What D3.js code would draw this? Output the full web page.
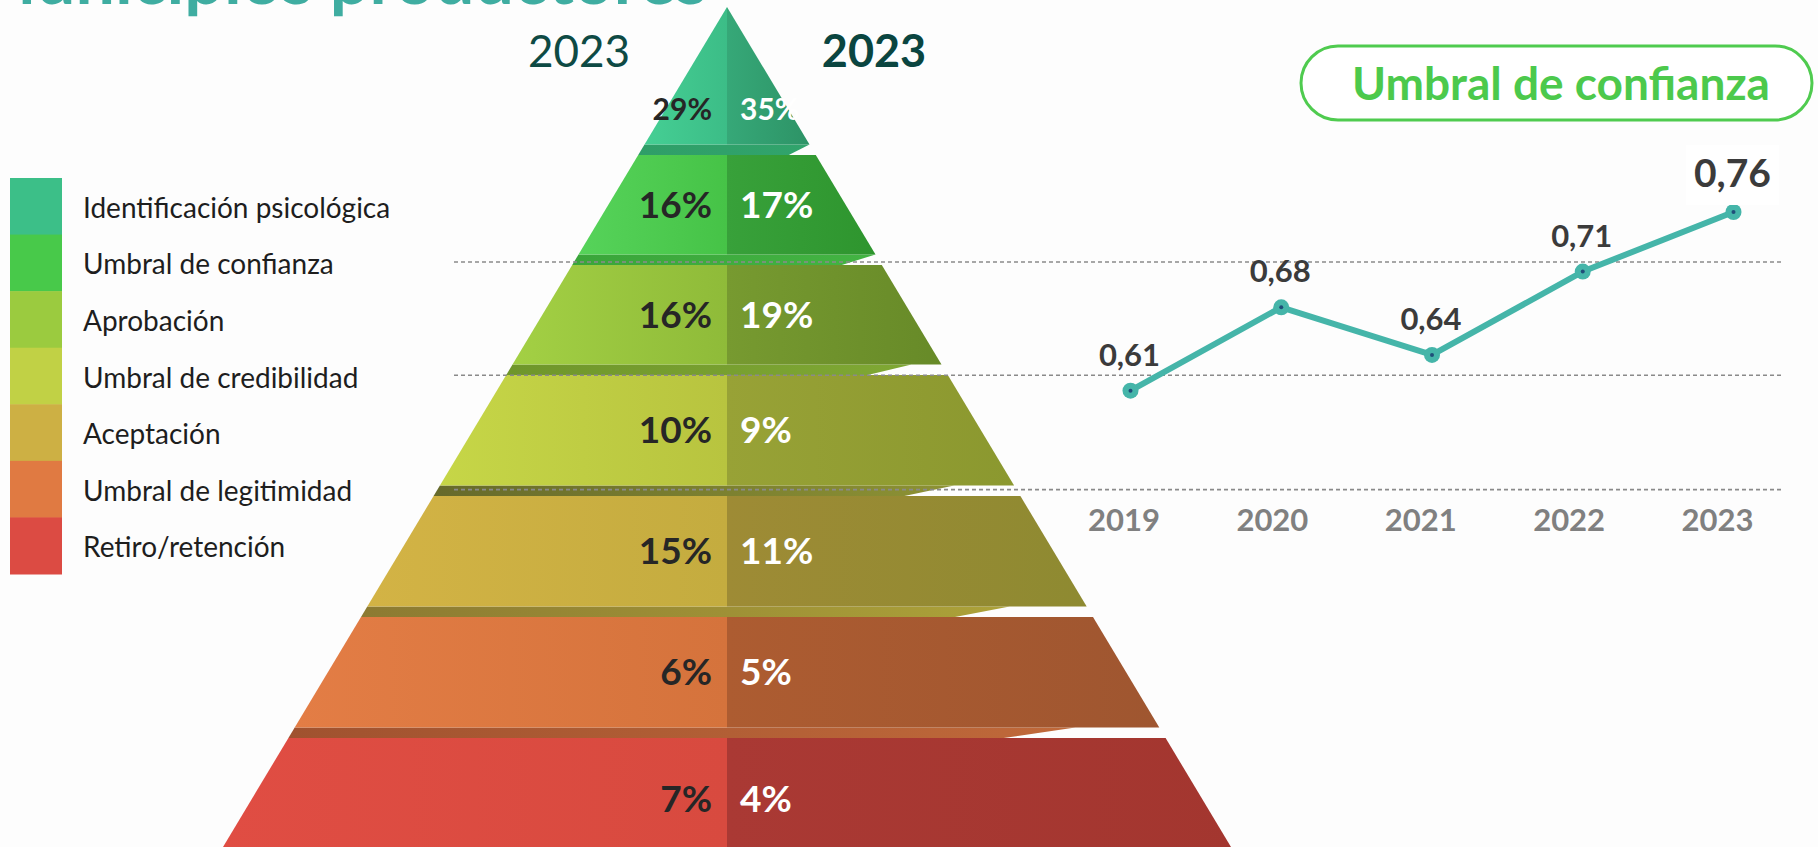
<!DOCTYPE html>
<html><head><meta charset="utf-8">
<script src="https://cdn.jsdelivr.net/npm/d3@7"></script>
<style>
html,body{margin:0;padding:0;background:#fdfdfd;}
svg{display:block;font-family:Lato,"Open Sans",sans-serif;}
</style></head><body>
<svg id="chart" width="1818" height="847"></svg>
<script>
// ---------- DATA ----------
const title = "Municipios productores";
const categories = ["Identificación psicológica","Umbral de confianza","Aprobación","Umbral de credibilidad","Aceptación","Umbral de legitimidad","Retiro/retención"];
const valuesLeft = [29,16,16,10,15,6,7];
const valuesRight = [35,17,19,9,11,5,4];
const pyramidHeaders = ["2023","2023"];
const lineTitle = "Umbral de confianza";
const years = ["2019","2020","2021","2022","2023"];
const trustValues = [0.61,0.68,0.64,0.71,0.76];
const gridValues = [0.527,0.623,0.718];

// ---------- STYLE ----------
const legendColors = ["#3cbf88","#48c94a","#9bcb3f","#c1d145","#cdb044","#e07a42","#dc4b43"];
const leftGrad  = [["#45cf94","#3cbd87"],["#56d35a","#46c347"],["#a3d044","#8fbb39"],["#c6d647","#b8c43f"],["#d3b345","#c4ac3f"],["#e37d45","#d5733c"],["#e04d43","#d84a3f"]];
const rightGrad = [["#36a878","#2d9366"],["#38a13a","#2e952e"],["#779a30","#678a28"],["#98a236","#8b982f"],["#9e8b35","#8e8a31"],["#ad5c31","#9f5630"],["#aa3934","#a3362f"]];
const stripGrad = [null,["#2f9e68","#31a46c"],["#3aa53a","#43b443"],["#6f962b","#7fa834"],["#666a2b","#8d9234"],["#8c7a32","#aca239"],["#a0522f","#c0693a"]];
const stripCutTop = [0,0,0,30,60,77,84];
const stripCutBottom = [0,27,40,80,116,138,162];

const svg = d3.select("#chart");
const defs = svg.append("defs");

// ---------- TITLE ----------
svg.append("text").attr("x",707).attr("y",4).attr("text-anchor","end")
  .attr("font-size",70).attr("font-weight",700).attr("fill","#3fada1").text(title);

// ---------- PYRAMID ----------
const cx = 727, apexY = 7;
const halfW = d3.scaleLinear().domain([apexY, 847]).range([0, 504]);
const levelTop = d3.scaleLinear().domain([0,1,3,6]).range([apexY,155,375,738]);
const gap = 10.5;
const idx = d3.range(categories.length);
const layers = idx.map(i => ({
  i, top: levelTop(i), bot: i === categories.length-1 ? 860 : levelTop(i+1) - gap
}));

function mkGrad(id, c0, c1){
  const g = defs.append("linearGradient").attr("id",id).attr("x1",0).attr("x2",1).attr("y1",0).attr("y2",0);
  g.append("stop").attr("offset",0).attr("stop-color",c0);
  g.append("stop").attr("offset",1).attr("stop-color",c1);
}
idx.forEach(i => {
  mkGrad("gl"+i, leftGrad[i][0], leftGrad[i][1]);
  mkGrad("gr"+i, rightGrad[i][0], rightGrad[i][1]);
  if (stripGrad[i]) mkGrad("gs"+i, stripGrad[i][0], stripGrad[i][1]);
});

const pyr = svg.append("g");
const line = d3.line();
// strips (top faces) between layers
pyr.selectAll("path.strip").data(layers.filter(d => d.i > 0)).join("path")
  .attr("class","strip")
  .attr("fill", d => `url(#gs${d.i})`)
  .attr("d", d => {
    const yA = layers[d.i-1].bot, yB = d.top;
    return line([[cx-halfW(yA), yA],[cx+halfW(yA)-stripCutTop[d.i], yA],
                 [cx+halfW(yB)-stripCutBottom[d.i], yB],[cx-halfW(yB), yB]]) + "Z";
  });
// left halves
pyr.selectAll("path.left").data(layers).join("path")
  .attr("class","left").attr("fill", d => `url(#gl${d.i})`)
  .attr("d", d => line([[cx-halfW(d.top), d.top],[cx, d.top],[cx, d.bot],[cx-halfW(d.bot), d.bot]]) + "Z");
// right halves
pyr.selectAll("path.right").data(layers).join("path")
  .attr("class","right").attr("fill", d => `url(#gr${d.i})`)
  .attr("d", d => line([[cx, d.top],[cx+halfW(d.top), d.top],[cx+halfW(d.bot), d.bot],[cx, d.bot]]) + "Z");

// labels
const labelY = d => d.i === 0 ? 120 : (d.top + d.bot)/2 + 13;
const fs = d => d.i === 0 ? 30 : 37;
pyr.selectAll("text.lv").data(layers).join("text")
  .attr("class","lv").attr("x", cx-15).attr("y", labelY).attr("text-anchor","end")
  .attr("font-size", fs).attr("font-weight",700).attr("fill","#262626")
  .text(d => valuesLeft[d.i] + "%");
pyr.selectAll("text.rv").data(layers).join("text")
  .attr("class","rv").attr("x", cx+13).attr("y", labelY).attr("text-anchor","start")
  .attr("font-size", fs).attr("font-weight",700).attr("fill","#ffffff")
  .text(d => valuesRight[d.i] + "%");

// headers
svg.append("text").attr("x",579).attr("y",67).attr("text-anchor","middle")
  .attr("font-size",44).attr("font-weight",400).attr("fill","#0e4a44").text(pyramidHeaders[0]);
svg.append("text").attr("x",874).attr("y",67).attr("text-anchor","middle")
  .attr("font-size",45).attr("font-weight",700).attr("fill","#0a4540").text(pyramidHeaders[1]);

// ---------- LEGEND ----------
const lg = d3.scaleBand().domain(categories).range([178, 574]);
const leg = svg.append("g");
leg.selectAll("rect").data(categories).join("rect")
  .attr("x",10).attr("width",52).attr("y", d => lg(d)).attr("height", lg.bandwidth()+0.5)
  .attr("fill", (d,i) => legendColors[i]);
leg.selectAll("text").data(categories).join("text")
  .attr("x",83).attr("y", d => lg(d) + lg.bandwidth()/2 + 11.5)
  .attr("font-size",28).attr("fill","#1e1e1e").text(d => d);

// ---------- LINE CHART ----------
const x = d3.scalePoint().domain(years).range([1130.5, 1733.5]);
const xLab = d3.scalePoint().domain(years).range([1124, 1717.5]);
const y = d3.scaleLinear().domain([0.61, 0.76]).range([390.7, 212]);

const lc = svg.append("g");
lc.selectAll("line.grid").data(gridValues).join("line")
  .attr("class","grid").attr("x1",454).attr("x2",1783)
  .attr("y1", d => y(d)).attr("y2", d => y(d))
  .attr("stroke","#8a8a8a").attr("stroke-width",1.6).attr("stroke-dasharray","4,3");

lc.selectAll("text.yr").data(years).join("text")
  .attr("class","yr").attr("x", d => xLab(d)).attr("y",531).attr("text-anchor","middle")
  .attr("font-size",31).attr("font-weight",700).attr("fill","#808080").text(d => d);

const pts = years.map((yr,i) => ({yr, v: trustValues[i]}));
lc.append("path").datum(pts)
  .attr("d", d3.line().x(d => x(d.yr)).y(d => y(d.v)))
  .attr("fill","none").attr("stroke","#45b5a9").attr("stroke-width",6).attr("stroke-linejoin","round");
lc.selectAll("circle.m").data(pts).join("circle").attr("class","m")
  .attr("cx", d => x(d.yr)).attr("cy", d => y(d.v)).attr("r",8).attr("fill","#45b5a9");
lc.selectAll("circle.c").data(pts).join("circle").attr("class","c")
  .attr("cx", d => x(d.yr)).attr("cy", d => y(d.v)).attr("r",2).attr("fill","#1f4e79");

const last = pts.length - 1;
const fmt = v => v.toFixed(2).replace(".", ",");
// white box behind last label
const lastBox = lc.append("rect").attr("fill","#ffffff");
const vl = lc.selectAll("text.vl").data(pts).join("text").attr("class","vl")
  .attr("x", d => x(d.yr) - 1).attr("y", d => y(d.v) - 25).attr("text-anchor","middle")
  .attr("font-size", (d,i) => i === last ? 39 : 31).attr("font-weight",700).attr("fill","#3b3b3b")
  .text(d => fmt(d.v));
const bb = vl.filter((d,i) => i === last).node().getBBox();
lastBox.attr("x", bb.x - 8).attr("y", bb.y - 4).attr("width", bb.width + 16).attr("height", bb.height + 14);

// title box
svg.append("rect").attr("x",1301).attr("y",46).attr("width",511).attr("height",74).attr("rx",37)
  .attr("fill","#ffffff").attr("stroke","#4fcb4f").attr("stroke-width",3);
svg.append("text").attr("x",1561).attr("y",100).attr("text-anchor","middle")
  .attr("font-size",46).attr("font-weight",700).attr("fill","#4cc94c").text(lineTitle);
</script>
</body></html>
